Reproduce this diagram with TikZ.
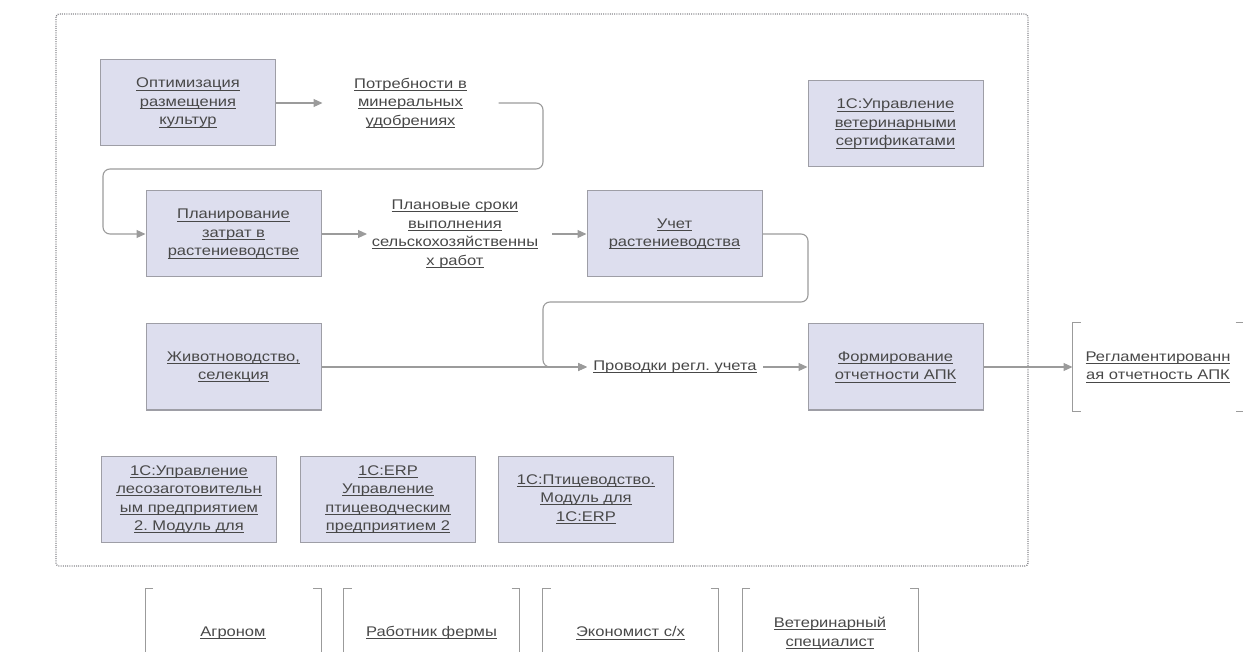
\documentclass[tikz,border=0pt]{standalone}
\usepackage{fontspec}
\setmainfont{Liberation Sans}[FakeStretch=1.18]
\usetikzlibrary{arrows.meta}
\frenchspacing

\definecolor{boxfill}{RGB}{221,222,238}
\definecolor{boxline}{RGB}{158,158,166}
\definecolor{flowline}{RGB}{155,155,155}
\definecolor{frameline}{RGB}{135,135,140}
\definecolor{linktext}{RGB}{72,72,72}

% underlined link text
\newcommand{\lnk}[1]{\leavevmode\setbox0=\hbox{#1}\rlap{\rule[-2.5pt]{\wd0}{0.8pt}}\box0}

\begin{document}
\begin{tikzpicture}[x=1pt, y=-1pt, >={Triangle[length=9pt,width=8pt]},
	sys/.style={draw=boxline, fill=boxfill, line width=1pt, minimum width=175pt,
		minimum height=86pt, inner sep=0pt, align=center, text=linktext,
		font=\fontsize{14}{18.5}\selectfont},
	data/.style={sys, draw=none, fill=none},
	role/.style={data, minimum height=88pt},
	flow/.style={->, draw=flowline, line width=1.1pt, rounded corners=7pt},
	brk/.style={draw=flowline, line width=1pt}]

	\useasboundingbox (0,0) rectangle (1243,652);

	% subsystem frame
	\draw[frameline, line width=1.3pt, dash pattern=on 1pt off 1.2pt, rounded corners=3pt]
	(56,14) rectangle (1028,566);

	% crop production
	\node[sys] (opt) at (188,103) {\lnk{Оптимизация}\\\lnk{размещения}\\\lnk{культур}};
	\node[data] (potr) at (410.5,103) {\lnk{Потребности в}\\\lnk{минеральных}\\\lnk{удобрениях}};
	\node[sys] (plan) at (233.5,234) {\lnk{Планирование}\\\lnk{затрат в}\\\lnk{растениеводстве}};
	\node[data] (sroki) at (455,234) {\lnk{Плановые сроки}\\\lnk{выполнения}\\\lnk{сельскохозяйственны}\\\lnk{х работ}};
	\node[sys] (uchet) at (674.5,234) {\lnk{Учет}\\\lnk{растениеводства}};
	\node[sys] (vet) at (895.5,124) {\lnk{1С:Управление}\\\lnk{ветеринарными}\\\lnk{сертификатами}};

	% livestock and reporting
	\node[sys] (zhiv) at (233.5,367) {\lnk{Животноводство,}\\\lnk{селекция}};
	\node[data] (prov) at (675,367) {\lnk{Проводки регл. учета}};
	\node[sys] (form) at (895.5,367) {\lnk{Формирование}\\\lnk{отчетности АПК}};
	\node[role, minimum width=170pt] (regl) at (1158,367) {\lnk{Регламентированн}\\\lnk{ая отчетность АПК}};

	% other products
	\node[sys] (les) at (189,499.5) {\lnk{1С:Управление}\\\lnk{лесозаготовительн}\\\lnk{ым предприятием}\\\lnk{2. Модуль для}};
	\node[sys] (erp) at (388,499.5) {\lnk{1С:ERP}\\\lnk{Управление}\\\lnk{птицеводческим}\\\lnk{предприятием 2}};
	\node[sys] (ptic) at (586,499) {\lnk{1С:Птицеводство.}\\\lnk{Модуль для}\\\lnk{1С:ERP}};

	% roles
	\node[role] (agr) at (233,633) {\lnk{Агроном}};
	\node[role] (rab) at (431.5,633) {\lnk{Работник фермы}};
	\node[role] (econ) at (630.5,633) {\lnk{Экономист с/х}};
	\node[role] (vets) at (830,633) {\lnk{Ветеринарный}\\\lnk{специалист}};

	% brackets
	\foreach \n in {regl,agr,rab,econ,vets} {
		\draw[brk] ([xshift=8pt]\n.north west) -- (\n.north west) -- (\n.south west) -- ([xshift=8pt]\n.south west);
		\draw[brk] ([xshift=-8pt]\n.north east) -- (\n.north east) -- (\n.south east) -- ([xshift=-8pt]\n.south east);
	}

	% bends
	\coordinate (b1) at (543,169);
	\coordinate (b2) at (103,169);
	\coordinate (c1) at (808,302);
	\coordinate (c2) at (543,302);

	% flows
	\draw[flow] (opt) -- (potr);
	\draw[flow] (potr.east) -| (b1) -- (b2) |- (plan.west);
	\draw[flow] (plan) -- (sroki);
	\draw[flow] ([xshift=9pt]sroki.east) -- (uchet);
	\draw[flow] (uchet.east) -| (c1) -- (c2) |- (prov.west);
	\draw[flow] (zhiv) -- (prov);
	\draw[flow] (prov) -- (form);
	\draw[flow] (form) -- (regl);

\end{tikzpicture}
\end{document}
